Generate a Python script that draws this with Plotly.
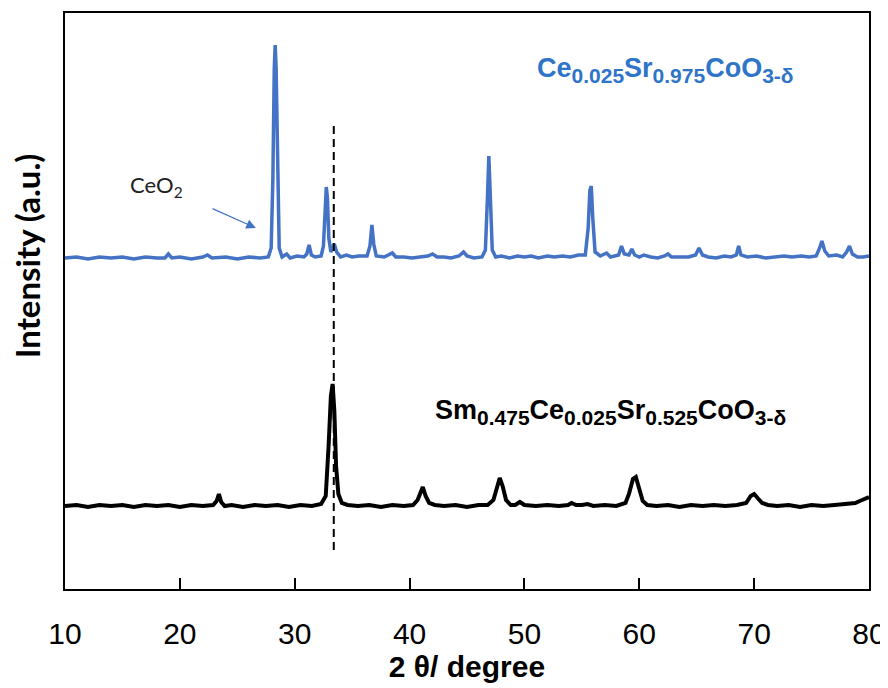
import plotly.graph_objects as go

# ---- data (2θ in degrees, intensity above each baseline, arbitrary units) ----
blue_theta = [10.0, 11.0, 12.0, 13.0, 14.0, 15.0, 16.0, 17.0, 18.0, 18.7, 19.0, 19.3, 20.0, 21.0, 22.0, 22.4, 22.8,
              24.0, 25.0, 26.0, 27.0, 27.7, 27.95, 28.1, 28.22, 28.3, 28.38, 28.5, 28.65, 28.9, 29.3, 29.6, 30.2,
              30.8, 31.05, 31.25, 31.45, 31.8, 32.3, 32.5, 32.65, 32.75, 32.85, 32.97, 33.15, 33.45, 33.65, 34.0,
              34.5, 35.0, 35.6, 36.3, 36.55, 36.72, 36.88, 37.1, 37.8, 38.5, 38.8, 39.5, 40.2, 41.0, 41.6, 42.0,
              42.4, 43.0, 43.6, 44.3, 44.7, 45.0, 45.6, 46.3, 46.6, 46.78, 46.9, 47.02, 47.2, 47.5, 48.0, 48.7,
              49.4, 50.0, 50.6, 51.2, 52.0, 52.6, 53.3, 54.0, 54.7, 55.3, 55.55, 55.7, 55.82, 55.95, 56.15, 56.6,
              57.15, 57.5, 58.2, 58.45, 58.7, 59.1, 59.35, 59.6, 60.0, 60.4, 61.0, 61.6, 62.2, 62.5, 62.8, 63.5,
              64.3, 64.9, 65.2, 65.5, 66.0, 66.7, 67.4, 68.0, 68.45, 68.65, 68.85, 69.4, 70.2, 71.0, 71.8, 72.6,
              73.3, 74.1, 74.8, 75.4, 75.7, 75.9, 76.15, 76.5, 77.2, 77.7, 78.05, 78.3, 78.55, 79.0, 79.5, 80.0]
blue_int = [0, 1, -1, 1, 0, 1, -1, 1, 0, 0, 4, 0, 1, -1, 1, 3, 0,
            1, -1, 1, 0, 1, 10, 80, 190, 213, 190, 80, 10, 1, 4, 0, 2,
            1, 4, 13, 3, 1, 2, 12, 55, 71, 60, 20, 6, 14, 6, 1,
            3, 1, 2, 2, 12, 33, 14, 2, 1, 5, 1, 1, 0, 1, 2, 4,
            1, 1, 0, 2, 6, 2, 0, 1, 8, 60, 102, 65, 8, 1, 2, 0,
            2, 1, 2, 0, 2, 1, 2, 1, 3, 3, 30, 68, 72, 40, 6, 2,
            5, 1, 3, 12, 4, 3, 9, 3, 1, 3, 1, 0, 2, 4, 1, 1,
            1, 3, 10, 3, 1, 0, 2, 1, 3, 12, 3, 1, 2, 0, 1, 2,
            1, 2, 1, 2, 10, 17, 7, 2, 3, 1, 6, 12, 4, 1, 1, 2]

black_theta = [10, 11, 12, 13, 14, 15, 16, 17, 18, 19, 20, 21, 22, 22.9, 23.2, 23.4, 23.6, 23.9, 24.5, 25.5,
               26.5, 27.5, 28.5, 29.5, 30.5, 31.5, 32.3, 32.7, 32.95, 33.15, 33.3, 33.45, 33.6, 33.8, 34.1, 34.6,
               35.5, 36.5, 37.5, 38.5, 39.5, 40.3, 40.7, 41.0, 41.15, 41.4, 41.7, 42.2, 43.0, 44.0, 45.0, 46.0,
               46.8, 47.3, 47.6, 47.85, 48.1, 48.4, 48.8, 49.2, 49.6, 50.0, 51.0, 52.0, 53.0, 53.8, 54.1, 54.5,
               55.0, 55.5, 56.0, 57.0, 58.0, 58.8, 59.1, 59.45, 59.7, 60.0, 60.3, 60.7, 61.5, 62.5, 63.5, 64.5,
               65.5, 66.5, 67.5, 68.5, 69.3, 69.7, 70.0, 70.3, 70.7, 71.2, 72.0, 73.0, 74.0, 75.0, 76.0, 77.0,
               78.0, 78.8, 79.4, 80.0]
black_int = [0, 1, -1, 1, 0, 1, -1, 1, 0, 1, -1, 1, 0, 1, 5, 12, 4, 0, 1, -1,
             1, 0, 1, -1, 1, 0, 2, 10, 60, 110, 122, 95, 40, 12, 3, 1,
             0, 1, -1, 1, 0, 1, 6, 16, 19, 10, 3, 1, 0, 1, -1, 1,
             1, 6, 20, 28, 20, 6, 1, 1, 4, 1, 0, 1, 0, 1, 3, 1,
             1, 2, 0, 1, 0, 3, 12, 27, 29, 17, 5, 1, 0, 1, -1, 1,
             0, 1, 0, 1, 3, 10, 12, 8, 3, 1, 0, 1, -1, 1, 0, 1,
             2, 3, 6, 9]

blue_offset = 331
black_offset = 83

x_ticks = [10, 20, 30, 40, 50, 60, 70, 80]
ref_line_theta = 33.4
ref_line_y = [39, 467]

SUB = "<sub><span style='font-size:21px'>{}</span></sub>"
blue_label = "Ce" + SUB.format("0.025") + "Sr" + SUB.format("0.975") + "CoO" + SUB.format("3-δ")
black_label = ("Sm" + SUB.format("0.475") + "Ce" + SUB.format("0.025") + "Sr" + SUB.format("0.525")
               + "CoO" + SUB.format("3-δ"))

BLUE = "#4472C4"

fig = go.Figure()
fig.add_trace(go.Scatter(x=blue_theta, y=[v + blue_offset for v in blue_int], mode="lines",
                         line=dict(color=BLUE, width=3.5), showlegend=False, hoverinfo="skip"))
fig.add_trace(go.Scatter(x=black_theta, y=[v + black_offset for v in black_int], mode="lines",
                         line=dict(color="black", width=4), showlegend=False, hoverinfo="skip"))
fig.add_trace(go.Scatter(x=[ref_line_theta, ref_line_theta], y=ref_line_y, mode="lines",
                         line=dict(color="black", width=2, dash="8px,5px"), showlegend=False, hoverinfo="skip"))

fig.add_annotation(x=50.92, y=519, text=blue_label, showarrow=False, xanchor="left", yanchor="middle",
                   font=dict(family="Liberation Sans, Arial", size=27, color="#2E74C8", weight="bold"))
fig.add_annotation(x=42.04, y=177, text=black_label, showarrow=False, xanchor="left", yanchor="middle",
                   font=dict(family="Liberation Sans, Arial", size=27, color="black", weight="bold"))
fig.add_annotation(x=18.0, y=403, text="CeO<sub>2</sub>", showarrow=False, xanchor="center", yanchor="middle",
                   font=dict(family="Lato, Noto Sans", size=22, color="#222222"))
fig.add_annotation(x=26.62, y=361, ax=22.71, ay=381, axref="x", ayref="y", text="", showarrow=True,
                   arrowhead=2, arrowsize=1.6, arrowwidth=1.2, arrowcolor=BLUE)
# y-axis title (placed as an annotation to match its off-centre position)
fig.add_annotation(xref="paper", yref="paper", x=-0.047, y=0.578, text="Intensity (a.u.)", textangle=-90,
                   showarrow=False, xanchor="center", yanchor="middle",
                   font=dict(family="Lato, Noto Sans", size=33, color="black", weight="bold"))

fig.update_xaxes(range=[10, 80], tickvals=x_ticks, ticks="inside", ticklen=11, tickwidth=2, tickcolor="black",
                 showline=True, linewidth=2, linecolor="black", mirror=True, showgrid=False, zeroline=False,
                 automargin=False, ticklabelstandoff=17,
                 tickfont=dict(family="Liberation Sans, Arial", size=30, color="black"),
                 title=dict(text="2 θ/ degree", standoff=4,
                            font=dict(family="Liberation Sans, Arial", size=30, color="black", weight="bold")))
fig.update_yaxes(range=[0, 576], showticklabels=False, ticks="", showline=True, linewidth=2, linecolor="black",
                 mirror=True, showgrid=False, zeroline=False, automargin=False)

# the page adds an 8 px body margin, so the figure is 880x680 placed at (8, 8)
fig.update_layout(width=880, height=680, margin=dict(l=57, r=19, t=5, b=99),
                  plot_bgcolor="white", paper_bgcolor="white")

fig.write_html("out.html")
